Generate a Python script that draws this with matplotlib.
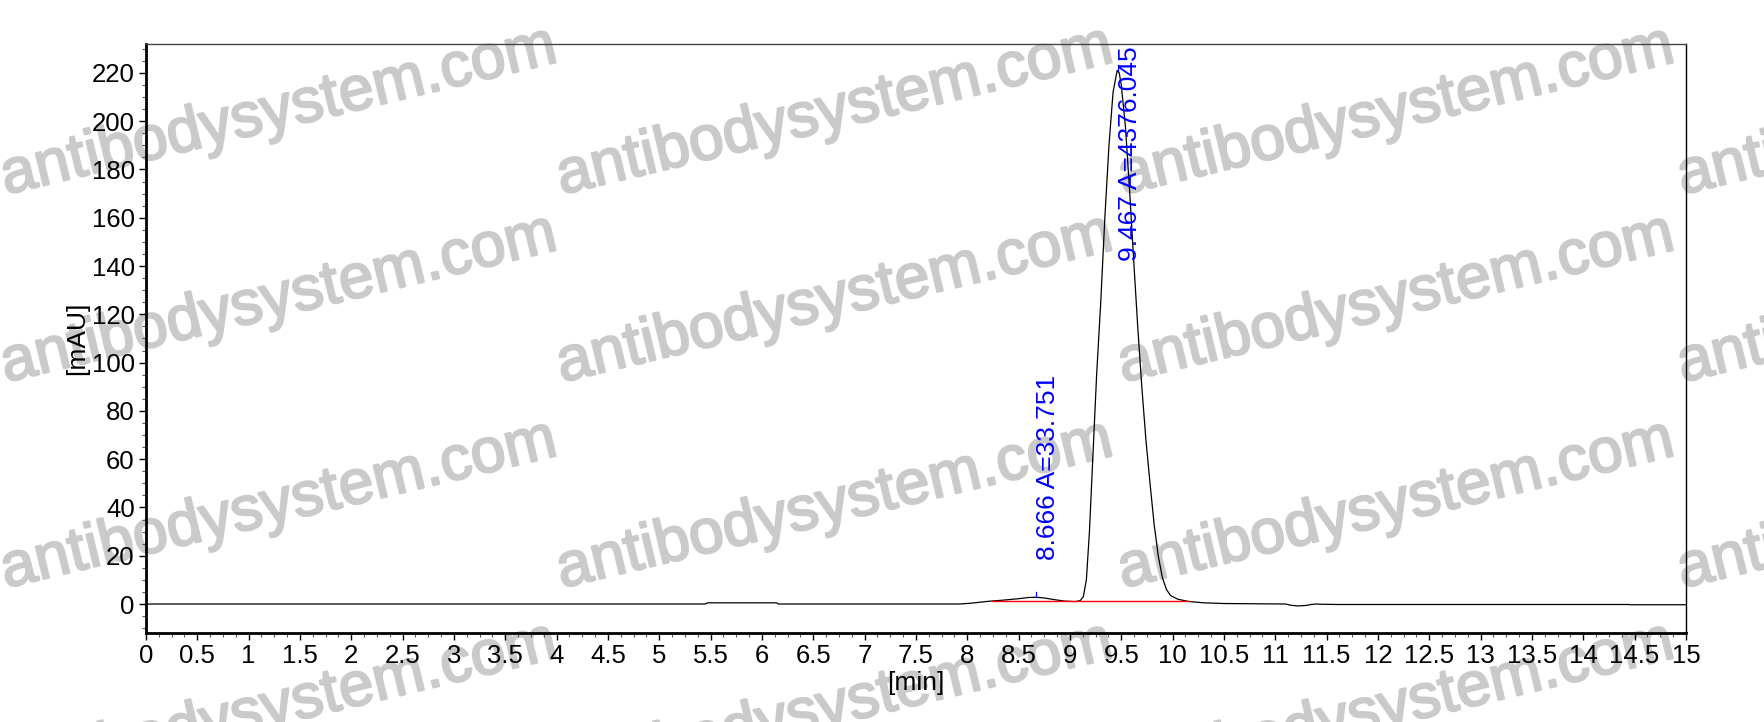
import numpy as np
import matplotlib.pyplot as plt
import matplotlib.patheffects as pe
from matplotlib.ticker import MultipleLocator

plt.rcParams['font.family'] = ['Liberation Sans', 'DejaVu Sans']

# Chromatogram trace (time in min, absorbance in mAU)
time = [0.0, 5.45, 5.47, 6.14, 6.16, 7.93, 8.05, 8.2, 8.35, 8.5, 8.6, 8.67,
        8.75, 8.85, 8.95, 9.05, 9.10, 9.13, 9.16, 9.19, 9.22, 9.26, 9.30,
        9.34, 9.38, 9.42, 9.46, 9.48, 9.50, 9.54, 9.58, 9.62, 9.66, 9.70,
        9.74, 9.78, 9.82, 9.86, 9.90, 9.94, 9.98, 10.05, 10.15, 10.3, 10.5,
        10.8, 11.1, 11.15, 11.22, 11.3, 11.35, 11.4, 11.45, 11.6, 14.45,
        14.46, 15.0]
signal = [0.0, 0.0, 0.5, 0.5, 0.0, 0.0, 0.4, 1.1, 1.6, 2.2, 2.7, 2.8,
          2.5, 1.8, 1.2, 1.0, 1.4, 3.0, 10.0, 30.0, 58.0, 95.0, 125.0,
          160.0, 190.0, 212.0, 221.0, 220.0, 215.0, 198.0, 172.0, 143.0,
          115.0, 90.0, 68.0, 50.0, 33.0, 20.0, 11.0, 6.0, 3.5, 2.0, 1.1,
          0.5, 0.2, 0.1, 0.0, -0.5, -0.8, -0.6, -0.2, 0.0, -0.1, -0.2,
          -0.2, -0.3, -0.3]

# integrated peaks
peak_rt = [8.666, 9.467]
peak_area = [33.751, 4376.045]
peak_height = [2.8, 221.0]
label_y = [18.2, 231.0]

# integration baseline
base_t = [8.24, 10.15]
base_v = [1.1, 1.1]

fig = plt.figure(figsize=(17.65, 7.22), dpi=100)
ax = fig.add_axes([0.0827, 0.1233, 0.8725, 0.8158])
ax.set_facecolor('none')

# watermark tiles
for yc in [0.845, 0.585, 0.30, 0.02]:
    for xc in [0.158, 0.473, 0.791, 1.108]:
        fig.text(xc, yc, 'antibodysystem.com', fontsize=45, color='#cacaca',
                 rotation=13.5, ha='center', va='center', zorder=-1,
                 rotation_mode='anchor',
                 path_effects=[pe.withStroke(linewidth=1.6, foreground='#cacaca')])

ax.plot(time, signal, color='black', lw=0.9)
ax.plot(base_t, base_v, color='red', lw=1.0)

for rt, area, h, ly in zip(peak_rt, peak_area, peak_height, label_y):
    ax.plot([rt, rt], [h, h + 2.3], color='blue', lw=0.9)
    va = 'top' if ly > 100 else 'bottom'
    ax.text(rt, ly, f'{rt:.3f} A={area:.3f}', rotation=90, color='blue',
            fontsize=19, ha='left', va=va)

ax.set_xlim(0, 15)
ax.set_ylim(-12, 232)
ax.xaxis.set_major_locator(MultipleLocator(0.5))
ax.xaxis.set_minor_locator(MultipleLocator(0.125))
ax.yaxis.set_minor_locator(MultipleLocator(5))
ax.set_yticks(np.arange(0, 221, 20))
ax.xaxis.set_major_formatter(plt.FuncFormatter(lambda v, p: f'{v:g}'))

ax.tick_params(which='major', direction='out', length=5, width=1,
               labelsize=18.5, pad=3)
ax.tick_params(which='minor', direction='out', length=3, width=0.8,
               color='#555555')

for s in ['left', 'bottom']:
    ax.spines[s].set_linewidth(2)
for s in ['top', 'right']:
    ax.spines[s].set_linewidth(1)
ax.spines['top'].set_color('#444444')

ax.set_xlabel('[min]', fontsize=19, labelpad=2)
ax.set_ylabel('[mAU]', fontsize=19, labelpad=2)

fig.savefig('out.png', dpi=100)
